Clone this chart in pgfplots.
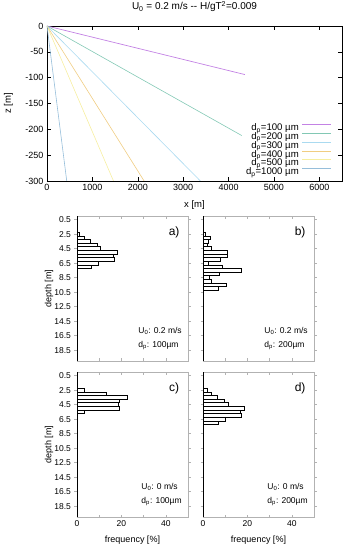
\documentclass[border=0pt]{standalone}
\usepackage{fontspec}
\setmainfont{Liberation Sans}
\usepackage{pgfplots}
\pgfplotsset{compat=1.18}
\definecolor{c1}{RGB}{195,130,228}
\definecolor{c2}{RGB}{130,200,180}
\definecolor{c3}{RGB}{170,218,240}
\definecolor{c4}{RGB}{240,205,130}
\definecolor{c5}{RGB}{246,238,160}
\definecolor{c6}{RGB}{150,190,218}
\newcommand{\lstrut}{\rule[-3.1pt]{0pt}{10.4pt}}
\pgfplotsset{
  hist/.style={
    scale only axis, width=111pt, height=145pt,
    xmin=0, xmax=50, ymin=0, ymax=20, y dir=reverse,
    xtick={0,10,20,30,40,50},
    ytick={0.5,2.5,4.5,6.5,8.5,10.5,12.5,14.5,16.5,18.5},
    yticklabels={0.5,2.5,4.5,6.5,8.5,10.5,12.5,14.5,16.5,18.5},
    tick align=inside, major tick length=2.5pt,
    axis line style={gray!60, line width=0.5pt},
    tick style={gray!60, line width=0.5pt},
    tick label style={font=\fontsize{8.5}{9}\selectfont, black},
    label style={font=\fontsize{9}{10}\selectfont},
    xbar, bar width=0.5,
    /pgf/number format/assume math mode=true,
  },
  bars/.style={draw=black, fill=white, line width=0.7pt},
}
\begin{document}
\begin{tikzpicture}[x=1pt,y=1pt]
\useasboundingbox (0,0) rectangle (347,550);
% ---------- top axis
\begin{axis}[
  at={(47pt,524pt)}, anchor=north west,
  scale only axis, width=295pt, height=155pt,
  xmin=0, xmax=6500, ymin=-300, ymax=0,
  xtick={0,1000,2000,3000,4000,5000,6000},
  ytick={-300,-250,-200,-150,-100,-50,0},
  tick align=inside, major tick length=4pt,
  axis line style={line width=0.7pt},
  tick style={line width=0.5pt, black},
  tick label style={font=\fontsize{9}{10}\selectfont},
  /pgf/number format/assume math mode=true,
  /pgf/number format/1000 sep={},
  xlabel={x [m]}, ylabel={z [m]},
  xlabel style={at={(axis description cs:0.5,0)}, anchor=north, yshift=-19pt, inner sep=0pt, font=\fontsize{9.5}{10}\selectfont},
  ylabel style={at={(axis description cs:-0.131,0.5)}, anchor=center, inner sep=0pt, font=\fontsize{9.5}{10}\selectfont},
  title={U\textsubscript{0} = 0.2 m/s -{}- H/gT\textsuperscript{2}=0.009},
  title style={at={(axis description cs:0.5,1)}, anchor=south, yshift=8pt, inner sep=0pt, font=\fontsize{10}{11}\selectfont},
  legend cell align=right, legend plot pos=right,
  legend style={at={(axis description cs:0.965,0.03)}, anchor=south east, draw=none, fill=none,
    font=\fontsize{9.6}{10}\selectfont, row sep=0pt, column sep=3pt, inner sep=0pt,
    nodes={inner sep=0pt}},
  legend image code/.code={\draw[#1] (0pt,3.2pt) -- (29pt,3.2pt);},
]
\addplot[c1, line width=0.7pt] coordinates {(0,0) (4360,-94)};
\addlegendentry{\lstrut d\textsubscript{p}=100 µm}
\addplot[c2, line width=0.6pt] coordinates {(0,0) (4290,-212)};
\addlegendentry{\lstrut d\textsubscript{p}=200 µm}
\addplot[c3, line width=0.6pt] coordinates {(0,0) (3380,-300)};
\addlegendentry{\lstrut d\textsubscript{p}=300 µm}
\addplot[c4, line width=0.6pt] coordinates {(0,0) (2140,-300)};
\addlegendentry{\lstrut d\textsubscript{p}=400 µm}
\addplot[c5, line width=0.6pt] coordinates {(0,0) (1465,-300)};
\addlegendentry{\lstrut d\textsubscript{p}=500 µm}
\addplot[c6, line width=0.6pt] coordinates {(0,0) (435,-300)};
\addlegendentry{\lstrut d\textsubscript{p}=1000 µm}
\end{axis}
% ---------- a)
\begin{axis}[hist, at={(77pt,334pt)}, anchor=north west,
  xticklabels={}, ylabel={depth [m]},
  ylabel style={at={(axis description cs:-0.252,0.5)}, anchor=center, inner sep=0pt}]
\addplot[bars] coordinates {(1.2,2.5) (3.4,3.0) (6.0,3.5) (9.0,4.0) (10.6,4.5) (18.3,5.0) (16.4,5.5) (17.0,6.0) (9.8,6.5) (6.3,7.0)};
\draw[black, line width=1.1pt] (axis description cs:0,0) -- (axis description cs:0,1);
\node[font=\fontsize{12}{12}\selectfont] at (axis description cs:0.875,0.89) {a)};
\node[anchor=east, align=left, inner sep=0pt, font=\fontsize{8.5}{14.5}\selectfont] at (axis description cs:0.945,0.155) {U\textsubscript{0}: 0.2 m/s\\d\textsubscript{p}: 100µm};
\end{axis}
% ---------- b)
\begin{axis}[hist, at={(203pt,334pt)}, anchor=north west,
  xticklabels={}, yticklabels={}]
\addplot[bars] coordinates {(1.2,2.5) (3.3,3.0) (2.2,3.5) (1.8,4.0) (3.7,4.5) (10.9,5.0) (10.9,5.5) (7.9,6.0) (2.2,6.5) (8.7,7.0) (17.2,7.5) (7.5,8.0) (3.0,8.5) (3.7,9.0) (10.4,9.5) (6.7,10.0)};
\draw[black, line width=1.1pt] (axis description cs:0,0) -- (axis description cs:0,1);
\node[font=\fontsize{12}{12}\selectfont] at (axis description cs:0.875,0.89) {b)};
\node[anchor=east, align=left, inner sep=0pt, font=\fontsize{8.5}{14.5}\selectfont] at (axis description cs:0.945,0.155) {U\textsubscript{0}: 0.2 m/s\\d\textsubscript{p}: 200µm};
\end{axis}
% ---------- c)
\begin{axis}[hist, at={(77pt,178pt)}, anchor=north west,
  xticklabels={0,{},20,{},40,{}}, ylabel={depth [m]}, xlabel={frequency [\%]},
  ylabel style={at={(axis description cs:-0.252,0.5)}, anchor=center, inner sep=0pt},
  xlabel style={at={(axis description cs:0.5,-0.163)}, anchor=center, inner sep=0pt}]
\addplot[bars] coordinates {(3.2,2.5) (13.1,3.0) (22.7,3.5) (19.1,4.0) (18.6,4.5) (19.1,5.0) (3.5,5.5)};
\draw[black, line width=1.1pt] (axis description cs:0,0) -- (axis description cs:0,1);
\node[font=\fontsize{12}{12}\selectfont] at (axis description cs:0.875,0.89) {c)};
\node[anchor=east, align=left, inner sep=0pt, font=\fontsize{8.5}{14.5}\selectfont] at (axis description cs:0.945,0.155) {U\textsubscript{0}: 0 m/s\\d\textsubscript{p}: 100µm};
\end{axis}
% ---------- d)
\begin{axis}[hist, at={(203pt,178pt)}, anchor=north west,
  xticklabels={0,{},20,{},40,{}}, yticklabels={}, xlabel={frequency [\%]},
  xlabel style={at={(axis description cs:0.5,-0.163)}, anchor=center, inner sep=0pt}]
\addplot[bars] coordinates {(1.8,2.5) (3.7,3.0) (6.3,3.5) (9.4,4.0) (11.2,4.5) (18.7,5.0) (16.9,5.5) (17.2,6.0) (10.0,6.5) (6.7,7.0)};
\draw[black, line width=1.1pt] (axis description cs:0,0) -- (axis description cs:0,1);
\node[font=\fontsize{12}{12}\selectfont] at (axis description cs:0.875,0.89) {d)};
\node[anchor=east, align=left, inner sep=0pt, font=\fontsize{8.5}{14.5}\selectfont] at (axis description cs:0.945,0.155) {U\textsubscript{0}: 0 m/s\\d\textsubscript{p}: 200µm};
\end{axis}
\end{tikzpicture}
\end{document}
